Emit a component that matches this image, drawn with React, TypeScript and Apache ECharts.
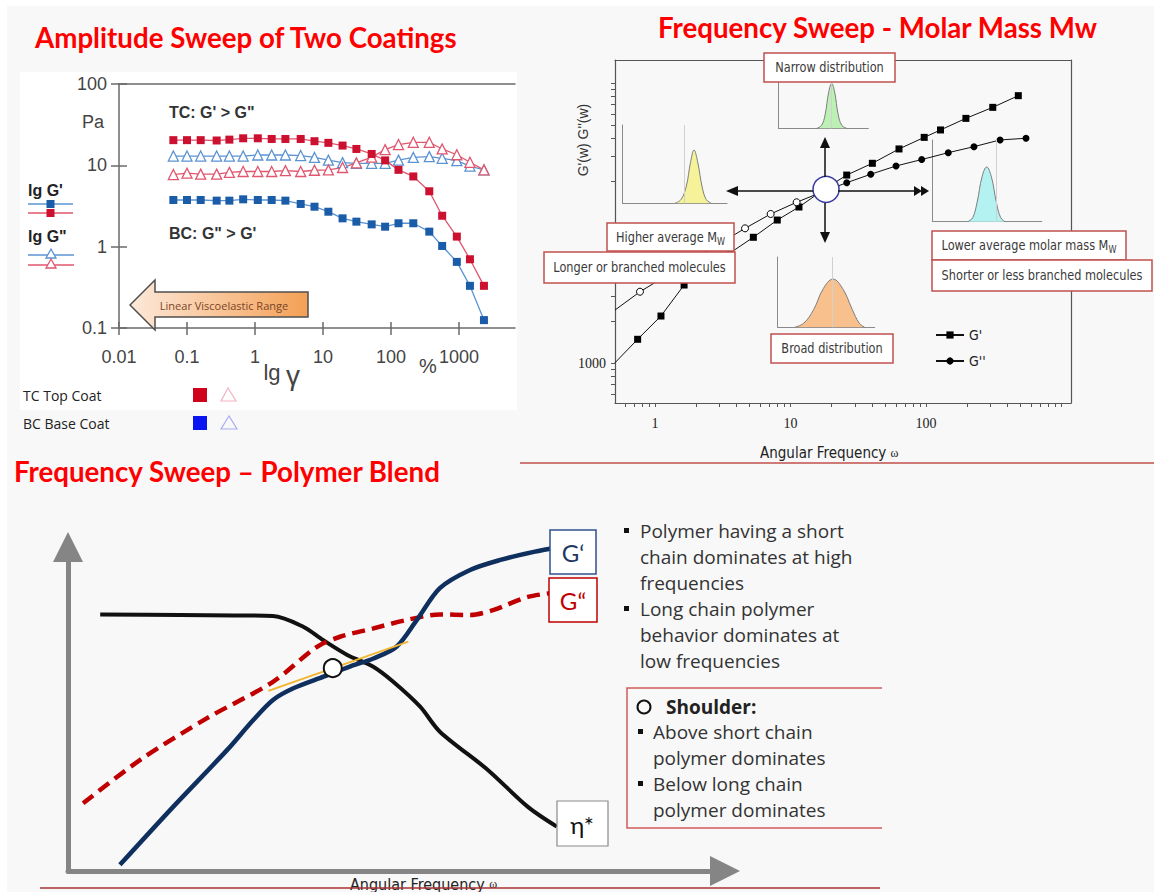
import React, { useEffect, useRef } from "react";
import * as echarts from "echarts";

// ===== Panel 1 — Amplitude Sweep of Two Coatings (strain %, modulus Pa) =====
const strainPercent = [0.063, 0.1, 0.159, 0.273, 0.42, 0.67, 1.1, 1.76, 2.8, 4.7, 7.5, 12, 19.4, 31, 52, 82, 129, 213, 366, 566, 930, 1450, 2330];
const tcStorage = [20.4, 20.4, 20.4, 20.2, 20.7, 21.5, 21.5, 21.1, 21.1, 21.1, 19.8, 18.9, 17.5, 15.9, 13.8, 11.5, 8.8, 7.3, 4.8, 2.4, 1.33, 0.7, 0.33];
const tcLoss = [7.7, 8.0, 7.8, 7.8, 8.2, 8.4, 8.4, 8.4, 8.6, 8.4, 8.7, 8.8, 9.4, 10.7, 12.6, 15.6, 18.0, 19.2, 19.2, 15.9, 13.5, 10.9, 8.8];
const bcStorage = [3.75, 3.75, 3.75, 3.68, 3.68, 3.82, 3.75, 3.75, 3.68, 3.35, 3.1, 2.69, 2.23, 2.03, 1.88, 1.76, 1.94, 1.94, 1.53, 1.02, 0.65, 0.33, 0.125];
const bcLoss = [13.0, 13.0, 13.0, 13.0, 13.0, 13.0, 13.4, 13.4, 13.4, 13.2, 12.5, 11.6, 10.8, 10.6, 10.6, 10.6, 11.6, 12.5, 12.8, 12.2, 11.4, 9.8, 8.8];
const strainTickLabels = [0.01, 0.1, 1, 10, 100, 1000];
const strainAxisMin = 0.01;
const strainAxisMax = 6668;
const modulusTickLabels = [0.1, 1, 10, 100];

// ===== Panel 2 — Frequency Sweep, Molar Mass Mw =====
const freqStorage = [0.507, 0.745, 1.107, 1.64, 2.42, 3.58, 5.32, 7.99, 11.55, 17.4, 26, 40.2, 63.2, 97, 128, 197, 311, 480];
const storageMw = [1005, 1477, 2166, 3606, 4690, 6110, 7907, 10500, 13010, 17200, 22000, 26700, 33800, 40900, 46200, 55900, 67000, 81200];
const freqLoss = [0.507, 0.775, 1.226, 1.907, 2.967, 4.62, 7.14, 11.1, 17.1, 26, 39.1, 60.1, 93, 146, 226, 352, 547];
const lossMw = [2390, 3230, 4227, 5470, 7080, 9160, 11600, 14060, 16650, 19400, 22300, 25550, 28400, 31800, 35100, 39200, 40300];
const hollowLossUpTo = 11.1;
const crossoverPoint = [18.3, 17400];
const freqAxisMin = 0.507;
const freqAxisMax = 1175;
const modAxisMin = 518;
const modAxisMax = 146000;
const freqTickLabels = [1, 10, 100];
const modTickLabels = [1000];
const freqMinorTicks = [0.6, 0.7, 0.8, 0.9, 1, 2, 3, 4, 5, 6, 7, 8, 9, 10, 20, 30, 40, 50, 60, 70, 80, 90, 100, 200, 300, 400, 500, 600, 700, 800, 900, 1000];
const modMinorTicks = [600, 700, 800, 900, 1000, 2000, 3000, 4000, 5000, 6000, 7000, 8000, 9000, 10000, 20000, 30000, 40000, 50000, 60000, 70000, 80000, 90000, 100000];

// Molar-mass distribution sketches (x: 0-100, y: 0-100)
const yellowDist = [[50, 0], [56, 5], [61, 22], [65, 52], [68.4, 68], [72, 52], [76, 22], [80, 5], [85, 0]];
const greenDist = [[42.7, 0], [48, 6], [52, 28], [56, 75], [59.3, 93], [62.6, 75], [66.6, 28], [70.6, 6], [76, 0]];
const cyanDist = [[32.6, 0], [37, 5], [41, 24], [45.5, 55], [49.7, 67], [54, 55], [58.5, 24], [62.5, 5], [66.5, 0]];
const orangeDist = [[17.5, 0], [27, 6], [37, 25], [47, 55], [57, 68.6], [67, 55], [77, 25], [84, 6], [89.7, 0]];
const distRefLine = { yellow: 58.8, green: 59.3, cyan: 58.9, orange: 56.4 };

// ===== Panel 3 — Frequency Sweep, Polymer Blend (schematic units 0-100) =====
const etaStar = [[4.9, 79.2], [17.0, 79.0], [31.2, 78.7], [35.8, 75.4], [38.8, 71.3], [42.5, 66.7], [46.4, 63.1], [49.5, 58.4], [53.6, 50.7], [56.6, 43.0], [63.9, 31.2], [70.0, 19.8], [74.4, 13.7]];
const blendStorage = [[7.9, 1.9], [16.0, 19.8], [24.2, 37.3], [28.2, 46.6], [31.2, 52.8], [34.3, 56.4], [38.9, 60.0], [42.9, 63.1], [46.5, 65.6], [50.0, 69.2], [53.1, 77.5], [56.6, 87.3], [61.2, 92.9], [65.8, 96.0], [70.9, 98.5], [74.9, 100]];
const blendLoss = [[2.3, 20.9], [11.0, 34.3], [21.1, 47.1], [31.2, 58.4], [37.9, 69.2], [41.4, 72.3], [46.5, 74.9], [51.6, 77.5], [56.6, 79.2], [61.2, 79.0], [64.8, 80.6], [70.0, 84.6], [74.9, 86.1]];
const shoulderTangent = [[30.5, 55.6], [51.8, 70.8]];
const shoulderPoint = [[40.3, 62.6]];

const SANS = "'Liberation Sans', Arial, sans-serif";
const COND = "'DejaVu Sans Condensed', 'DejaVu Sans', sans-serif";
const SERIF = "'Liberation Serif', 'Times New Roman', serif";
const TITLE = "Lato, 'Open Sans', sans-serif";
const BODY = "'Open Sans', sans-serif";

const lg = (v: number) => Math.log10(v);
const pick = (list: number[]) => (v: number) => {
  const hit = list.find((t) => Math.abs(t - v) <= Math.abs(t) * 1e-6);
  return hit === undefined ? "" : String(hit);
};

const txt = (text: string, x: number, y: number, font: string, fill: string, align = "left", extra: any = {}, el: any = {}) => ({
  type: "text", x, y, z: 40, silent: true, ...el,
  style: { text, font, fill, align, verticalAlign: "middle", textAlign: align, textVerticalAlign: "middle", ...extra },
});
const rect = (x: number, y: number, w: number, h: number, style: any, z = 30) => ({
  type: "rect", z, silent: true, shape: { x, y, width: w, height: h }, style,
});
const seg = (x1: number, y1: number, x2: number, y2: number, stroke: string, lineWidth = 1, z = 35) => ({
  type: "line", z, silent: true, shape: { x1, y1, x2, y2 }, style: { stroke, lineWidth },
});
const poly = (points: number[][], style: any, z = 35) => ({ type: "polygon", z, silent: true, shape: { points }, style });

const subRich = { s: { font: `10px ${COND}`, fill: "#3a3a3a", padding: [8, 0, 0, 0] } };
const labelBox = (x: number, y: number, w: number, h: number, text: string) => [
  rect(x, y, w, h, { fill: "#ffffff", stroke: "#c0504d", lineWidth: 1.5 }, 50),
  txt(text, x + w / 2, y + h / 2, `14px ${COND}`, "#3a3a3a", "center", { rich: subRich }, { z: 51, scaleX: 0.9 }),
];

const hiddenAxis = {
  axisLine: { show: false, onZero: false }, axisTick: { show: false }, axisLabel: { show: false }, splitLine: { show: false },
};
const frameAxis = (gridIndex: number, position: string, color: string, width: number) => ({
  gridIndex, type: "value", position, min: 0, max: 1, ...hiddenAxis,
  axisLine: { show: true, onZero: false, lineStyle: { color, width } },
});
const miniAxis = (gridIndex: number) => ({
  gridIndex, type: "value", min: 0, max: 100, ...hiddenAxis,
  axisLine: { show: true, onZero: false, lineStyle: { color: "#8a8a8a", width: 1 } },
});

function buildOption(): any {
  const AX1 = "#6a6a6a";
  const RED = "#cc1030", RED_LINE = "#e0566e", BLUE = "#1a5ca8", BLUE_LINE = "#5b93d2";

  const p1 = (name: string, ys: number[], symbol: string, color: string, lineColor: string, hollow: boolean, z: number) => ({
    type: "line", name, xAxisIndex: 0, yAxisIndex: 0, z,
    data: strainPercent.map((x, i) => [x, ys[i]]),
    symbol, symbolSize: hollow ? 10 : 8, showAllSymbol: true,
    lineStyle: { color: lineColor, width: 1.3 },
    itemStyle: hollow ? { color: "#ffffff", borderColor: color, borderWidth: 1.3 } : { color, borderWidth: 0 },
  });

  const dist = (xi: number, data: number[][], fill: string, ref: number) => ({
    type: "line", xAxisIndex: xi, yAxisIndex: xi - 2, data, smooth: 0.4, symbol: "none", z: 3,
    lineStyle: { color: "#7d7d7d", width: 1 },
    areaStyle: { color: fill, opacity: 1 },
    markLine: { silent: true, symbol: "none", label: { show: false }, lineStyle: { color: "#d0d0d0", width: 1, type: "solid" }, data: [{ xAxis: ref }] },
  });

  const graphic: any[] = [
    rect(7, 6, 1147, 886, { fill: "#f8f8f8" }, -100),
    rect(20, 72, 497, 338, { fill: "#ffffff" }, -99),
    // titles
    txt("Amplitude Sweep of Two Coatings", 35, 37, `bold 27.7px ${TITLE}`, "#ff0000"),
    txt("Frequency Sweep - Molar Mass Mw", 658, 27, `bold 27.7px ${TITLE}`, "#ff0000"),
    txt("Frequency Sweep – Polymer Blend", 14, 471, `bold 27.7px ${TITLE}`, "#ff0000"),
    seg(520, 463, 1154, 463, "#c0504d", 1.5),
    // ----- panel 1 decorations
    txt("Pa", 93, 122, `18px ${SANS}`, "#444444", "center"),
    txt("TC: G' > G\"", 169, 112, `bold 16px ${SANS}`, "#333333"),
    txt("BC: G\" > G'", 169, 233, `bold 16px ${SANS}`, "#333333"),
    txt("lg", 272, 372, `22px ${SANS}`, "#444444", "center"),
    txt("γ", 293, 375, `28px ${SANS}`, "#444444", "center"),
    txt("%", 428, 366, `20px ${SANS}`, "#444444", "center"),
    txt("lg G'", 28, 190, `bold 16px ${SANS}`, "#222222"),
    seg(28, 204, 73, 204, BLUE_LINE, 1.5),
    rect(46.5, 200, 8, 8, { fill: BLUE }, 36),
    seg(28, 213, 73, 213, RED_LINE, 1.5),
    rect(46.5, 209, 8, 8, { fill: RED }, 36),
    txt("lg G\"", 28, 236, `bold 16px ${SANS}`, "#222222"),
    seg(28, 255, 74, 255, BLUE_LINE, 1.5),
    poly([[51, 249], [46, 258], [56, 258]], { fill: "#ffffff", stroke: BLUE_LINE, lineWidth: 1.3 }, 36),
    seg(28, 265, 74, 265, RED_LINE, 1.5),
    poly([[51, 259], [46, 268], [56, 268]], { fill: "#ffffff", stroke: RED_LINE, lineWidth: 1.3 }, 36),
    poly([[130, 305], [155, 280], [155, 292], [308, 292], [308, 317], [155, 317], [155, 330]], {
      fill: { type: "linear", x: 0, y: 0, x2: 1, y2: 0, colorStops: [{ offset: 0, color: "#fde9da" }, { offset: 1, color: "#f4a055" }] },
      stroke: "#4f4f4f", lineWidth: 1.5,
    }, 20),
    txt("Linear Viscoelastic Range", 224, 305, `11px ${BODY}`, "#7a4526", "center"),
    txt("TC Top Coat", 23, 395, `14px ${BODY}`, "#222222"),
    txt("BC Base Coat", 23, 423, `14px ${BODY}`, "#222222"),
    rect(193, 388, 14, 14, { fill: "#d0021b" }, 36),
    poly([[228, 388], [221, 401], [236, 401]], { fill: "none", stroke: "#f2b3c0", lineWidth: 1.2 }, 36),
    rect(193, 416, 14, 14, { fill: "#0a14f0" }, 36),
    poly([[229, 416], [221, 429], [237, 429]], { fill: "none", stroke: "#a9aef2", lineWidth: 1.2 }, 36),
    // ----- panel 2 decorations
    txt("G'(w) G''(w)", 583, 140, `14px ${SANS}`, "#333333", "center", {}, { rotation: Math.PI / 2 }),
    txt("Angular Frequency {w|ω}", 760, 453, `15px ${COND}`, "#222222", "left", { rich: { w: { font: `12px ${SERIF}`, fill: "#222222" } } }),
    seg(813, 191, 733, 191, "#111111", 1.5),
    poly([[726, 191], [738, 186], [738, 196]], { fill: "#111111" }),
    seg(838, 191, 916, 191, "#111111", 1.5),
    poly([[914, 186], [922, 191], [914, 196]], { fill: "#111111" }),
    poly([[921, 186], [929, 191], [921, 196]], { fill: "#111111" }),
    seg(825, 177, 825, 146, "#111111", 1.5),
    poly([[825, 137], [820, 148], [830, 148]], { fill: "#111111" }),
    seg(825, 203, 825, 233, "#111111", 1.5),
    poly([[825, 243], [820, 232], [830, 232]], { fill: "#111111" }),
    ...labelBox(764, 53, 131, 29, "Narrow distribution"),
    ...labelBox(607, 223, 127, 28, "Higher average M{s|W}"),
    ...labelBox(544, 252, 191, 31, "Longer or branched molecules"),
    ...labelBox(932, 231, 194, 29, "Lower average molar mass M{s|W}"),
    ...labelBox(932, 260, 220, 31, "Shorter or less branched molecules"),
    ...labelBox(771, 334, 122, 29, "Broad distribution"),
    // ----- panel 3 decorations
    rect(550, 530, 46, 44, { fill: "#ffffff", stroke: "#2f528f", lineWidth: 1.5 }, 30),
    txt("G‘", 573, 552, `24px ${TITLE}`, "#1f3864", "center"),
    rect(549, 578, 48, 44, { fill: "#ffffff", stroke: "#c00000", lineWidth: 1.5 }, 30),
    txt("G“", 573, 600, `24px ${TITLE}`, "#c00000", "center"),
    rect(557, 801, 51, 45, { fill: "#ffffff", stroke: "#8a8a8a", lineWidth: 1.2 }, 30),
    txt("η*", 582, 824, `24px ${TITLE}`, "#111111", "center"),
    rect(624, 528, 5, 5, { fill: "#111111" }, 36),
    txt("Polymer having a short", 640, 531, `19px ${BODY}`, "#333333"),
    txt("chain dominates at high", 640, 557, `19px ${BODY}`, "#333333"),
    txt("frequencies", 640, 583, `19px ${BODY}`, "#333333"),
    rect(624, 606, 5, 5, { fill: "#111111" }, 36),
    txt("Long chain polymer", 640, 609, `19px ${BODY}`, "#333333"),
    txt("behavior dominates at", 640, 635, `19px ${BODY}`, "#333333"),
    txt("low frequencies", 640, 661, `19px ${BODY}`, "#333333"),
    { type: "polyline", z: 30, silent: true, shape: { points: [[882, 688], [627, 688], [627, 828], [882, 828]] }, style: { stroke: "#d05a5a", lineWidth: 1.5, fill: "none" } },
    { type: "circle", z: 36, silent: true, shape: { cx: 644, cy: 707, r: 6.5 }, style: { fill: "none", stroke: "#111111", lineWidth: 2 } },
    txt("Shoulder:", 666, 707, `bold 19px ${BODY}`, "#222222"),
    rect(638, 729, 5, 5, { fill: "#111111" }, 36),
    txt("Above short chain", 653, 732, `19px ${BODY}`, "#333333"),
    txt("polymer dominates", 653, 758, `19px ${BODY}`, "#333333"),
    rect(638, 781, 5, 5, { fill: "#111111" }, 36),
    txt("Below long chain", 653, 784, `19px ${BODY}`, "#333333"),
    txt("polymer dominates", 653, 810, `19px ${BODY}`, "#333333"),
    txt("Angular Frequency {w|ω}", 350, 884, `16px ${COND}`, "#222222", "left", { rich: { w: { font: `12px ${SERIF}`, fill: "#222222" } } }),
    seg(40, 888, 880, 888, "#a83232", 1.5, 45),
  ];

  return {
    animation: false,
    backgroundColor: "#ffffff",
    grid: [
      { left: 119, top: 84, width: 396, height: 244, outerBoundsMode: "none" },
      { left: 615, top: 60, width: 456, height: 343, outerBoundsMode: "none" },
      { left: 622.7, top: 125, width: 104.3, height: 78.3, outerBoundsMode: "none" },
      { left: 778.3, top: 80, width: 90, height: 48.3, outerBoundsMode: "none" },
      { left: 932.3, top: 140, width: 109.4, height: 81.7, outerBoundsMode: "none" },
      { left: 777.7, top: 257, width: 97, height: 70.3, outerBoundsMode: "none" },
      { left: 68, top: 547, width: 657, height: 324, outerBoundsMode: "none" },
    ],
    legend: [{
      data: ["G'", "G''"], left: 935, top: 328, orient: "vertical", itemWidth: 28, itemHeight: 9, itemGap: 12,
      padding: 0, selectedMode: false, textStyle: { fontFamily: COND, fontSize: 14, color: "#222222" },
    }],
    xAxis: [
      // 0: panel 1 main log axis
      {
        gridIndex: 0, type: "log", logBase: 10, min: strainAxisMin, max: strainAxisMax, position: "bottom",
        axisLine: { show: true, onZero: false, lineStyle: { color: AX1, width: 1.5 } },
        axisTick: { show: false }, splitLine: { show: false }, minorTick: { show: false },
        axisLabel: { margin: 20, fontSize: 18, color: "#444444", fontFamily: SANS, formatter: pick(strainTickLabels), showMaxLabel: false },
      },
      // 1,2: panel 1 crossing ticks
      {
        gridIndex: 0, type: "value", min: lg(strainAxisMin), max: lg(strainAxisMax), position: "bottom", ...hiddenAxis,
        axisTick: { show: true, customValues: strainTickLabels.map(lg), length: 7, lineStyle: { color: AX1, width: 1.5 } },
      },
      {
        gridIndex: 0, type: "value", min: lg(strainAxisMin), max: lg(strainAxisMax), position: "bottom", ...hiddenAxis,
        axisTick: { show: true, inside: true, customValues: strainTickLabels.map(lg), length: 6, lineStyle: { color: AX1, width: 1.5 } },
      },
      // 3: panel 1 top frame
      frameAxis(0, "top", AX1, 1.5),
      // 4: panel 2 main log axis
      {
        gridIndex: 1, type: "log", logBase: 10, min: freqAxisMin, max: freqAxisMax, position: "bottom",
        axisLine: { show: true, onZero: false, lineStyle: { color: "#555555", width: 1.2 } },
        axisTick: { show: false }, splitLine: { show: false }, minorTick: { show: false },
        axisLabel: { margin: 13, fontSize: 14, color: "#222222", fontFamily: SERIF, formatter: pick(freqTickLabels) },
      },
      // 5: panel 2 minor ticks
      {
        gridIndex: 1, type: "value", min: lg(freqAxisMin), max: lg(freqAxisMax), position: "bottom", ...hiddenAxis,
        axisTick: { show: true, customValues: freqMinorTicks.map(lg), length: 4, lineStyle: { color: "#555555", width: 1 } },
      },
      // 6: panel 2 top frame
      frameAxis(1, "top", "#555555", 1.2),
      // 7-10: distribution sketches
      miniAxis(2), miniAxis(3), miniAxis(4), miniAxis(5),
      // 11: panel 3
      {
        gridIndex: 6, type: "value", min: 0, max: 100, ...hiddenAxis,
        axisLine: { show: true, onZero: false, symbol: ["none", "triangle"], symbolSize: [30, 30], lineStyle: { color: "#858585", width: 5 } },
      },
    ],
    yAxis: [
      // 0: panel 1 main log axis
      {
        gridIndex: 0, type: "log", logBase: 10, min: 0.1, max: 100, position: "left",
        axisLine: { show: true, onZero: false, lineStyle: { color: AX1, width: 1.5 } },
        axisTick: { show: true, length: 8, lineStyle: { color: AX1, width: 1.5 } },
        splitLine: { show: false }, minorTick: { show: false },
        axisLabel: { margin: 12, fontSize: 18, color: "#444444", fontFamily: SANS, formatter: pick(modulusTickLabels) },
      },
      // 1: panel 1 inside ticks
      {
        gridIndex: 0, type: "log", logBase: 10, min: 0.1, max: 100, position: "left", ...hiddenAxis,
        axisTick: { show: true, inside: true, length: 8, lineStyle: { color: AX1, width: 1.5 } },
      },
      // 2: panel 2 main log axis
      {
        gridIndex: 1, type: "log", logBase: 10, min: modAxisMin, max: modAxisMax, position: "left",
        axisLine: { show: true, onZero: false, lineStyle: { color: "#555555", width: 1.2 } },
        axisTick: { show: false }, splitLine: { show: false }, minorTick: { show: false },
        axisLabel: { margin: 9, fontSize: 14, color: "#222222", fontFamily: SERIF, formatter: pick(modTickLabels) },
      },
      // 3: panel 2 minor ticks
      {
        gridIndex: 1, type: "value", min: lg(modAxisMin), max: lg(modAxisMax), position: "left", ...hiddenAxis,
        axisTick: { show: true, customValues: modMinorTicks.map(lg), length: 4, lineStyle: { color: "#555555", width: 1 } },
      },
      // 4: panel 2 right frame
      frameAxis(1, "right", "#555555", 1.2),
      // 5-8: distribution sketches
      miniAxis(2), miniAxis(3), miniAxis(4), miniAxis(5),
      // 9: panel 3
      {
        gridIndex: 6, type: "value", min: 0, max: 100, ...hiddenAxis,
        axisLine: { show: true, onZero: false, symbol: ["none", "triangle"], symbolSize: [30, 30], lineStyle: { color: "#858585", width: 5 } },
      },
    ],
    series: [
      p1("BC G''", bcLoss, "triangle", BLUE_LINE, BLUE_LINE, true, 2),
      p1("TC G''", tcLoss, "triangle", RED_LINE, RED_LINE, true, 2),
      p1("BC G'", bcStorage, "rect", BLUE, BLUE_LINE, false, 3),
      p1("TC G'", tcStorage, "rect", RED, RED_LINE, false, 3),
      {
        type: "line", name: "G'", xAxisIndex: 4, yAxisIndex: 2, z: 2, showAllSymbol: true,
        data: freqStorage.map((f, i) => (i === 0 ? { value: [f, storageMw[i]], symbol: "none" } : [f, storageMw[i]])),
        symbol: "rect", symbolSize: 7, lineStyle: { color: "#111111", width: 1 }, itemStyle: { color: "#000000" },
      },
      {
        type: "line", name: "G''", xAxisIndex: 4, yAxisIndex: 2, z: 2, showAllSymbol: true,
        data: freqLoss.map((f, i) =>
          i === 0 ? { value: [f, lossMw[i]], symbol: "none" }
            : f <= hollowLossUpTo ? { value: [f, lossMw[i]], itemStyle: { color: "#ffffff", borderColor: "#000000", borderWidth: 1 } }
              : [f, lossMw[i]]),
        symbol: "circle", symbolSize: 7, lineStyle: { color: "#111111", width: 1 }, itemStyle: { color: "#000000" },
      },
      {
        type: "scatter", name: "crossover", xAxisIndex: 4, yAxisIndex: 2, z: 5, data: [crossoverPoint], symbolSize: 26,
        itemStyle: { color: "#ffffff", borderColor: "#3a3a9e", borderWidth: 1.5, opacity: 1 },
      },
      dist(7, yellowDist, "#f6f29a", distRefLine.yellow),
      dist(8, greenDist, "#bdf0b4", distRefLine.green),
      dist(9, cyanDist, "#b4f2f2", distRefLine.cyan),
      dist(10, orangeDist, "#f8c08c", distRefLine.orange),
      {
        type: "line", name: "η* blend", xAxisIndex: 11, yAxisIndex: 9, data: etaStar, smooth: 0.3, symbol: "none", z: 3,
        lineStyle: { color: "#111111", width: 4 },
      },
      {
        type: "line", name: "G'' blend", xAxisIndex: 11, yAxisIndex: 9, data: blendLoss, smooth: 0.3, symbol: "none", z: 3,
        lineStyle: { color: "#c00000", width: 4.5, type: [13, 7] },
      },
      {
        type: "line", name: "G' blend", xAxisIndex: 11, yAxisIndex: 9, data: blendStorage, smooth: 0.3, symbol: "none", z: 4,
        lineStyle: { color: "#0f2f5f", width: 4.5 },
      },
      {
        type: "line", name: "tangent", xAxisIndex: 11, yAxisIndex: 9, data: shoulderTangent, symbol: "none", z: 5,
        lineStyle: { color: "#f2b530", width: 2 },
      },
      {
        type: "scatter", name: "shoulder", xAxisIndex: 11, yAxisIndex: 9, data: shoulderPoint, symbolSize: 18, z: 6,
        itemStyle: { color: "#ffffff", borderColor: "#111111", borderWidth: 2, opacity: 1 },
      },
    ],
    graphic,
  };
}

export default function App() {
  const ref = useRef<HTMLDivElement>(null);
  useEffect(() => {
    if (!ref.current) return;
    const chart = echarts.init(ref.current, undefined, { renderer: "svg" });
    chart.setOption(buildOption());
    return () => chart.dispose();
  }, []);
  return <div ref={ref} style={{ position: "absolute", left: 0, top: 0, width: 1154, height: 892 }} />;
}
